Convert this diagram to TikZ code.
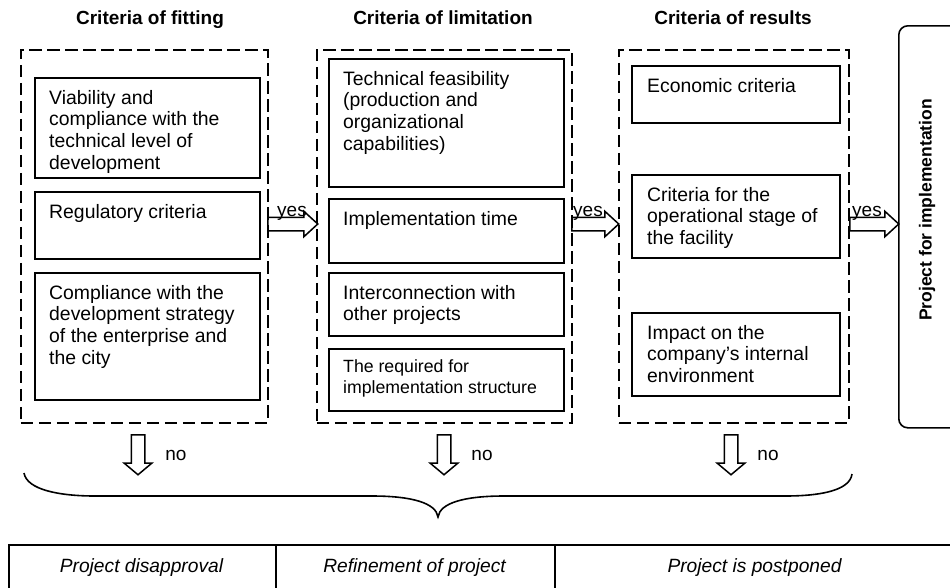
\documentclass[tikz,border=0pt]{standalone}
\usepackage{fontspec}
\setmainfont{Liberation Sans}
\usetikzlibrary{shapes.arrows,calc}
\tikzset{
  dbox/.style={draw, line width=1.7pt, dash pattern=on 12.5pt off 5.5pt, rectangle, inner sep=0pt, anchor=north west},
  ibox/.style={draw, line width=1.6pt, rectangle, inner sep=0pt, anchor=north west},
  itext/.style={anchor=north west, inner sep=0pt, align=left, font=\fontsize{19.4}{21.7}\selectfont},
  stext/.style={anchor=north west, inner sep=0pt, align=left, font=\fontsize{17.7}{21.7}\selectfont},
  headtext/.style={font=\bfseries\fontsize{19}{22}\selectfont, anchor=base, inner sep=0pt},
  lbl/.style={font=\fontsize{19}{22}\selectfont, anchor=base, inner sep=0pt},
  outtext/.style={font=\itshape\fontsize{19.2}{22}\selectfont, anchor=base, inner sep=0pt},
  harrow/.style={single arrow, draw, line width=1.5pt, inner xsep=0pt, inner ysep=6pt, single arrow head extend=6pt, single arrow tip angle=85, anchor=tail},
  varrow/.style={single arrow, draw, line width=1.5pt, inner xsep=0pt, inner ysep=6pt, single arrow head extend=7pt, single arrow tip angle=100, anchor=tail, rotate=-90, minimum height=40pt},
  cell/.style={draw, line width=1.6pt, rectangle, inner sep=0pt, anchor=north west, minimum height=60pt},
}
\begin{document}
\begin{tikzpicture}[x=1pt,y=-1pt]
\useasboundingbox (0,0) rectangle (950,587);
\clip (0,0) rectangle (950,587);

% headers
\node[headtext] (h1) at (150,24) {Criteria of fitting};
\node[headtext] (h2) at (443,24) {Criteria of limitation};
\node[headtext] (h3) at (733,24) {Criteria of results};

% dashed groups
\node[dbox, minimum width=247pt, minimum height=373pt] (d1) at (20,49) {};
\node[dbox, minimum width=255pt, minimum height=373pt] (d2) at (316,49) {};
\node[dbox, minimum width=230pt, minimum height=373pt] (d3) at (618,49) {};

% column 1
\node[ibox, minimum width=225pt, minimum height=100pt] (f1) at (34,77) {};
\node[itext] (f1t) at ($(f1.north west)+(15,13)$) {Viability and\\compliance with the\\technical level of\\development};
\node[ibox, minimum width=225pt, minimum height=67pt] (f2) at (34,191) {};
\node[itext] (f2t) at ($(f2.north west)+(15,13)$) {Regulatory criteria};
\node[ibox, minimum width=225pt, minimum height=127pt] (f3) at (34,272) {};
\node[itext] (f3t) at ($(f3.north west)+(15,13)$) {Compliance with the\\development strategy\\of the enterprise and\\the city};

% column 2
\node[ibox, minimum width=235pt, minimum height=128pt] (l1) at (328,58) {};
\node[itext] (l1t) at ($(l1.north west)+(15,13)$) {Technical feasibility\\(production and\\organizational\\capabilities)};
\node[ibox, minimum width=235pt, minimum height=64pt] (l2) at (328,198) {};
\node[itext] (l2t) at ($(l2.north west)+(15,13)$) {Implementation time};
\node[ibox, minimum width=235pt, minimum height=63pt] (l3) at (328,272) {};
\node[itext] (l3t) at ($(l3.north west)+(15,13)$) {Interconnection with\\other projects};
\node[ibox, minimum width=235pt, minimum height=62pt] (l4) at (328,348) {};
\node[stext] (l4t) at ($(l4.north west)+(15,11)$) {The required for\\implementation structure};

% column 3
\node[ibox, minimum width=208pt, minimum height=57pt] (r1) at (631,65) {};
\node[itext] (r1t) at ($(r1.north west)+(16,13)$) {Economic criteria};
\node[ibox, minimum width=208pt, minimum height=83pt] (r2) at (631,174) {};
\node[itext] (r2t) at ($(r2.north west)+(16,13)$) {Criteria for the\\operational stage of\\the facility};
\node[ibox, minimum width=208pt, minimum height=83pt] (r3) at (631,312) {};
\node[itext] (r3t) at ($(r3.north west)+(16,13)$) {Impact on the\\company's internal\\environment};

% implementation box
\node[draw, line width=1.6pt, rounded corners=9pt, inner sep=0pt, anchor=north west, minimum width=62pt, minimum height=402pt] (impl) at (898,25) {};
\node[rotate=90, font=\bfseries\fontsize{17.5}{20}\selectfont, inner sep=0pt] (implt) at (927,210) {Project for implementation};

% yes arrows
\node[harrow, minimum height=50pt] (y1) at (267,224) {};
\node[harrow, minimum height=47pt] (y2) at (571,224) {};
\node[harrow, minimum height=49pt] (y3) at (849,224) {};
\node[lbl] (y1t) at (292,216) {yes};
\node[lbl] (y2t) at (588,216) {yes};
\node[lbl] (y3t) at (867,216) {yes};

% no arrows
\node[varrow] (n1) at (138,434) {};
\node[varrow] (n2) at (444,434) {};
\node[varrow] (n3) at (731,434) {};
\node[lbl] (n1t) at (176,460) {no};
\node[lbl] (n2t) at (482,460) {no};
\node[lbl] (n3t) at (768,460) {no};

% brace
\draw[line width=1.6pt] (24,473) .. controls (27,490) and (60,496) .. (95,496) -- (372,496)
  .. controls (412,496) and (436,503) .. (438,517)
  .. controls (440,503) and (464,496) .. (504,496) -- (785,496)
  .. controls (822,496) and (850,490) .. (852,474);

% outcome table
\node[cell, minimum width=267pt] (c1) at (8,544) {};
\node[cell, minimum width=279pt] (c2) at (275,544) {};
\node[cell, minimum width=406pt] (c3) at (554,544) {};
\node[outtext] (c1t) at (141.5,572) {Project disapproval};
\node[outtext] (c2t) at (414.5,572) {Refinement of project};
\node[outtext] (c3t) at (754.5,572) {Project is postponed};
\end{tikzpicture}
\end{document}
